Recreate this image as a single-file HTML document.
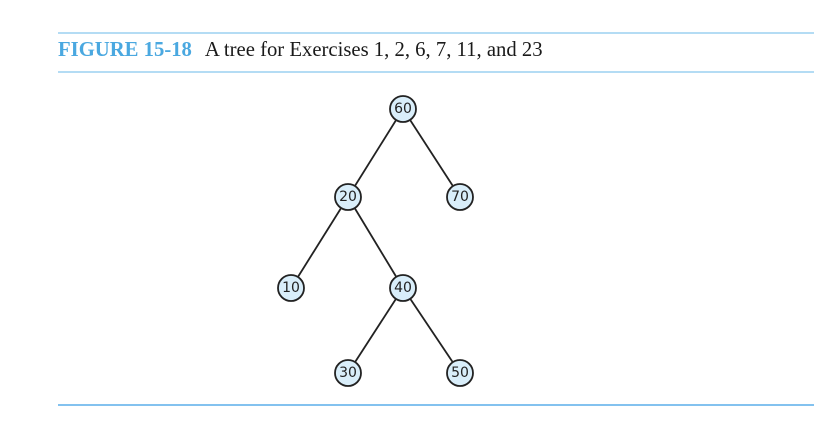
<!DOCTYPE html>
<html><head><meta charset="utf-8"><style>
html,body{margin:0;padding:0;background:#fff;width:814px;height:434px;overflow:hidden}
.t{position:absolute;left:58px;top:39px;font-family:"Liberation Serif",serif;font-size:20.7px;color:#1a1a1a;white-space:nowrap}
.t b{color:#4aa8e0;margin-right:9px}
</style></head><body>
<svg width="814" height="434" style="position:absolute;left:0;top:0">
<line x1="58" y1="33" x2="814" y2="33" stroke="#86c8ee" stroke-width="1.2"/>
<line x1="58" y1="72" x2="814" y2="72" stroke="#86c8ee" stroke-width="1.2"/>
<line x1="58" y1="405" x2="814" y2="405" stroke="#5aaeea" stroke-width="1.5"/>
<g stroke="#222" stroke-width="1.8">
<line x1="403" y1="109" x2="348" y2="197"/>
<line x1="403" y1="109" x2="460" y2="197"/>
<line x1="348" y1="197" x2="291" y2="288"/>
<line x1="348" y1="197" x2="403" y2="288"/>
<line x1="403" y1="288" x2="348" y2="373"/>
<line x1="403" y1="288" x2="460" y2="373"/>
</g>
<g fill="#d9eefa" stroke="#222" stroke-width="1.8">
<circle cx="403" cy="109" r="13"/>
<circle cx="348" cy="197" r="13"/>
<circle cx="460" cy="197" r="13"/>
<circle cx="291" cy="288" r="13"/>
<circle cx="403" cy="288" r="13"/>
<circle cx="348" cy="373" r="13"/>
<circle cx="460" cy="373" r="13"/>
</g>
<g font-family="DejaVu Sans, sans-serif" font-size="14" fill="#222" text-anchor="middle" dominant-baseline="central">
<text x="403" y="109">60</text>
<text x="348" y="197">20</text>
<text x="460" y="197">70</text>
<text x="291" y="288">10</text>
<text x="403" y="288">40</text>
<text x="348" y="373">30</text>
<text x="460" y="373">50</text>
</g>
</svg>
<div class="t"><b>FIGURE 15-18</b> A tree for Exercises 1, 2, 6, 7, 11, and 23</div>
</body></html>
